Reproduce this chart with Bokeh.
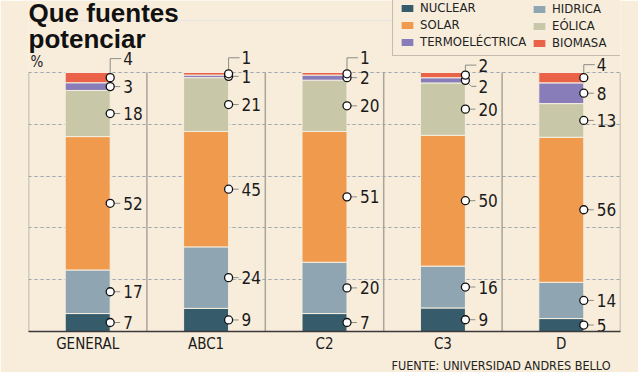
from bokeh.plotting import figure
from bokeh.models import (ColumnDataSource, FactorRange, Range1d, Legend, LegendItem,
                          Label, Grid, FixedTicker, Title)
from bokeh.core.properties import value
from bokeh.embed import file_html
from bokeh.resources import INLINE

# ---------------- data ----------------
CATEGORIES = ["GENERAL", "ABC1", "C2", "C3", "D"]
SERIES_KEYS = ["nuclear", "hidrica", "solar", "eolica", "termo", "biomasa"]
SERIES_LABELS = ["NUCLEAR", "HIDRICA", "SOLAR", "EÓLICA", "TERMOELÉCTRICA", "BIOMASA"]
NUCLEAR = [7, 9, 7, 9, 5]
HIDRICA = [17, 24, 20, 16, 14]
SOLAR = [52, 45, 51, 50, 56]
EOLICA = [18, 21, 20, 20, 13]
TERMO = [3, 1, 2, 2, 8]
BIOMASA = [4, 1, 1, 2, 4]
Y_TICKS = [20, 40, 60, 80, 100]

VALUES = [NUCLEAR, HIDRICA, SOLAR, EOLICA, TERMO, BIOMASA]
COLORS = ["#365b6a", "#8fa5b2", "#f09a4d", "#c8c7a8", "#897db9", "#ea6248"]

# legend columns (series keys)
LEGEND_COL1 = ["nuclear", "solar", "termo"]
LEGEND_COL2 = ["hidrica", "eolica", "biomasa"]

# label leader shifts (screen px, negative = up) for the small top segments
LABEL_SHIFT = {
    ("GENERAL", "biomasa"): -19,
    ("ABC1", "biomasa"): -16,
    ("C2", "biomasa"): -16,
    ("C3", "biomasa"): -10,
    ("C3", "termo"): 6,
    ("D", "biomasa"): -13,
}

# ---------------- geometry / style ----------------
W, H = 638, 372
LEFT = 28
FRAME_W, FRAME_H = 592, 331      # frame height left after axis + source panels
PX_X = FRAME_W / len(CATEGORIES)
PX_Y = 2.59
Y_END = FRAME_H / PX_Y
BAR_W = 0.38
BG = "#f8eddb"
FONT = "DejaVu Sans Condensed"

# normalise each column to 100 %
totals = [sum(v[i] for v in VALUES) for i in range(len(CATEGORIES))]
scaled = [[v[i] * 100.0 / totals[i] for i in range(len(CATEGORIES))] for v in VALUES]

data = {"cat": CATEGORIES}
for k, s in zip(SERIES_KEYS, scaled):
    data[k] = s
source = ColumnDataSource(data)

p = figure(x_range=FactorRange(factors=CATEGORIES, range_padding=0),
           y_range=Range1d(0, Y_END), width=W, height=H,
           output_backend="svg", toolbar_location=None, y_axis_location=None,
           min_border_left=LEFT, min_border_right=W - LEFT - FRAME_W,
           min_border_top=0, min_border_bottom=H - FRAME_H)
p.background_fill_color = BG
p.border_fill_color = BG
p.outline_line_color = None
p.xgrid.grid_line_color = None

p.add_layout(Grid(dimension=1, ticker=FixedTicker(ticks=Y_TICKS),
                  grid_line_color="#a3a3a0", grid_line_dash="3 3", grid_line_width=1))

# column separators
bounds = list(range(len(CATEGORIES) + 1))
p.segment(x0=bounds, y0=[0] * len(bounds), x1=bounds, y1=[Y_TICKS[-1]] * len(bounds),
          line_color="#a8a59c", line_width=1.5)

renderers = p.vbar_stack(SERIES_KEYS, x="cat", width=BAR_W, color=COLORS, source=source,
                         line_color="#f6efe0", line_width=1)
rmap = dict(zip(SERIES_KEYS, renderers))
lmap = dict(zip(SERIES_KEYS, SERIES_LABELS))

# value labels
cx, cy, lxs, lys, tx, ty, tt = [], [], [], [], [], [], []
for i, cat in enumerate(CATEGORIES):
    base = 0.0
    edge = i + 0.5 + BAR_W / 2
    for j, key in enumerate(SERIES_KEYS):
        v = scaled[j][i]
        mid = base + v / 2
        base += v
        shift = LABEL_SHIFT.get((cat, key), 0)
        ylab = mid - shift / PX_Y
        cx.append(edge)
        cy.append(mid)
        if shift == 0:
            lxs.append([edge, edge + 10 / PX_X])
            lys.append([mid, mid])
        else:
            bend = edge + (6 / PX_X if shift > 0 else 0)
            lxs.append([edge, bend, edge + 11 / PX_X])
            lys.append([mid, ylab, ylab])
        tx.append(edge + 13 / PX_X)
        ty.append(ylab)
        tt.append(str(VALUES[j][i]))

p.multi_line(xs=lxs, ys=lys, line_color="#8c8c86", line_width=1)
p.scatter(x=cx, y=cy, size=8, fill_color="white", line_color="#111111", line_width=1.3)
p.text(x=tx, y=ty, text=tt, text_font=value(FONT), text_font_size="17px",
       text_baseline="middle", text_align="left", text_color="#1a1a1a")

# axis
ax = p.xaxis[0]
ax.axis_line_color = "#3a3a3a"
ax.axis_line_width = 1.5
ax.major_tick_line_color = None
ax.minor_tick_line_color = None
ax.major_tick_out = 0
ax.major_tick_in = 0
ax.major_label_text_font = FONT
ax.major_label_text_font_size = "15px"
ax.major_label_text_color = "#1a1a1a"
ax.major_label_standoff = 3

# source line under the axis
p.add_layout(Title(text="FUENTE: UNIVERSIDAD ANDRES BELLO", align="right", offset=10,
                   standoff=0, text_font=FONT, text_font_size="12.5px",
                   text_font_style="normal", text_color="#222222"), "below")

# legend: framed box with first column, second column overlaid
common = dict(label_text_font=FONT, label_text_font_size="13px", label_text_color="#222222",
              glyph_width=16, glyph_height=10, label_height=14, label_standoff=5,
              spacing=2, padding=6, margin=0)
leg1 = Legend(items=[LegendItem(label=lmap[k], renderers=[rmap[k]]) for k in LEGEND_COL1],
              location=(392 - LEFT, FRAME_H - 56), label_width=195,
              background_fill_color=BG, background_fill_alpha=1,
              border_line_color="#8e8c84", border_line_width=1.5, **common)
leg2 = Legend(items=[LegendItem(label=lmap[k], renderers=[rmap[k]]) for k in LEGEND_COL2],
              location=(537 - 6 - LEFT, FRAME_H - 50),
              background_fill_alpha=0, border_line_color=None, **common)
p.add_layout(leg1)
p.add_layout(leg2)

# texts
p.add_layout(Label(x=0, y=FRAME_H - 12.5, x_units="screen", y_units="screen", text="Que fuentes",
                   text_font="Liberation Sans", text_font_style="bold",
                   text_font_size="26px", text_baseline="middle", text_color="#111111"))
p.add_layout(Label(x=0, y=FRAME_H - 38, x_units="screen", y_units="screen", text="potenciar",
                   text_font="Liberation Sans", text_font_style="bold",
                   text_font_size="26px", text_baseline="middle", text_color="#111111"))
p.add_layout(Label(x=2, y=FRAME_H - 61, x_units="screen", y_units="screen", text="%",
                   text_font=FONT, text_font_size="15px", text_baseline="middle",
                   text_color="#222222"))

open("out.html", "w").write(file_html(p, INLINE))
